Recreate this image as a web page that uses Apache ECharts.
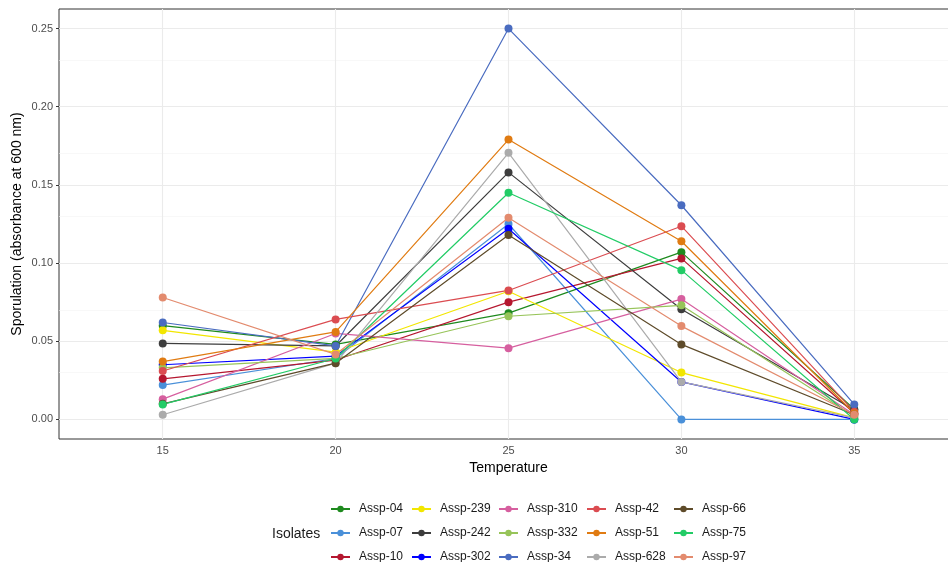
<!DOCTYPE html>
<html>
<head>
<meta charset="utf-8">
<script src="https://cdn.jsdelivr.net/npm/echarts@6/dist/echarts.min.js"></script>
<style>html,body{margin:0;padding:0;background:#fff}#c{width:948px;height:562px}</style>
</head>
<body>
<div id="c"></div>
<script>
const temps = [15, 20, 25, 30, 35];
const yTicks = [0, 0.05, 0.10, 0.15, 0.20, 0.25];
const yMinor = [0.025, 0.075, 0.125, 0.175, 0.225];
const isolates = ['Assp-04','Assp-07','Assp-10','Assp-239','Assp-242','Assp-302','Assp-310','Assp-332','Assp-34','Assp-42','Assp-51','Assp-628','Assp-66','Assp-75','Assp-97'];
const assp04  = [0.060, 0.048, 0.068, 0.107, 0.0065];
const assp07  = [0.022, 0.039, 0.125, 0.000, 0.000];
const assp10  = [0.026, 0.038, 0.075, 0.103, 0.004];
const assp239 = [0.057, 0.043, 0.082, 0.030, 0.001];
const assp242 = [0.0486, 0.047, 0.158, 0.0705, 0.006];
const assp302 = [0.035, 0.0405, 0.122, 0.024, 0.000];
const assp310 = [0.013, 0.055, 0.0456, 0.077, 0.003];
const assp332 = [0.033, 0.039, 0.066, 0.073, 0.002];
const assp34  = [0.062, 0.047, 0.250, 0.137, 0.0096];
const assp42  = [0.031, 0.064, 0.0825, 0.1236, 0.005];
const assp51  = [0.037, 0.056, 0.179, 0.114, 0.004];
const assp628 = [0.003, 0.036, 0.1705, 0.024, 0.001];
const assp66  = [0.010, 0.036, 0.118, 0.048, 0.003];
const assp75  = [0.0096, 0.039, 0.145, 0.0955, 0.000];
const assp97  = [0.078, 0.0416, 0.129, 0.0597, 0.003];
const values = [assp04, assp07, assp10, assp239, assp242, assp302, assp310, assp332, assp34, assp42, assp51, assp628, assp66, assp75, assp97];
const colors = ['#1e8a1e','#4a90d9','#b5172f','#f2e600','#3d3d3d','#0000ff','#d65f9f','#97c459','#4a6cc0','#db4c51','#e07b12','#ababab','#5e4b2a','#22cc66','#e38b6e'];
const legendCols = [
  ['Assp-04','Assp-07','Assp-10'],
  ['Assp-239','Assp-242','Assp-302'],
  ['Assp-310','Assp-332','Assp-34'],
  ['Assp-42','Assp-51','Assp-628'],
  ['Assp-66','Assp-75','Assp-97']
];
const legendLeft = [325, 406, 493, 581, 668];

const FONT = 'Liberation Sans, Arial, sans-serif';

const series = isolates.map((name, i) => ({
  name: name,
  type: 'line',
  data: temps.map((t, j) => [t, values[i][j]]),
  symbol: 'circle',
  symbolSize: 8,
  color: colors[i],
  lineStyle: { width: 1.2, color: colors[i] },
  itemStyle: { color: colors[i], borderWidth: 0 },
  z: 10,
  animation: false
}));

series.unshift({
  name: 'grid',
  type: 'line',
  data: [],
  silent: true,
  z: 1,
  animation: false,
  markLine: {
    silent: true,
    z: 1,
    symbol: ['none', 'none'],
    label: { show: false },
    animation: false,
    data: [
      ...yMinor.map(v => ({ yAxis: v, lineStyle: { color: '#f4f4f4', width: 0.6, type: 'solid' } })),
      ...yTicks.map(v => ({ yAxis: v, lineStyle: { color: '#ebebeb', width: 1.1, type: 'solid' } })),
      ...temps.map(v => ({ xAxis: v, lineStyle: { color: '#ebebeb', width: 1.1, type: 'solid' } }))
    ]
  }
});

const legends = legendCols.map((col, k) => ({
  orient: 'vertical',
  left: legendLeft[k],
  top: 498,
  height: 100,
  data: col,
  itemWidth: 19,
  itemHeight: 8,
  itemGap: 12,
  selectedMode: false,
  textStyle: { fontFamily: FONT, fontSize: 12, color: '#1a1a1a', padding: [0, 0, 0, 4] }
}));

const chart = echarts.init(document.getElementById('c'), null, { renderer: 'canvas' });
chart.setOption({
  backgroundColor: '#ffffff',
  animation: false,
  title: {
    text: 'Isolates',
    left: 267,
    top: 522,
    textStyle: { fontFamily: FONT, fontSize: 14, fontWeight: 'normal', color: '#1a1a1a' }
  },
  legend: legends,
  grid: {
    left: 59, top: 9, right: -10, bottom: 123,
    outerBoundsMode: 'none',
    containLabel: false,
    show: true, borderColor: '#333333', borderWidth: 1, backgroundColor: 'transparent'
  },
  xAxis: {
    type: 'value',
    min: 12, max: 38,
    name: 'Temperature',
    nameLocation: 'middle',
    nameGap: 22,
    nameTextStyle: { fontFamily: FONT, fontSize: 14, color: '#000' },
    axisLine: { show: false },
    axisTick: { show: true, length: 3, customValues: temps, lineStyle: { color: '#333' } },
    axisLabel: { customValues: temps, fontFamily: FONT, fontSize: 11, color: '#4d4d4d', margin: 6 },
    splitLine: { show: false }
  },
  yAxis: {
    type: 'value',
    min: -0.0125, max: 0.2625,
    name: 'Sporulation (absorbance at 600 nm)',
    nameLocation: 'middle',
    nameGap: 35,
    nameMoveOverlap: false,
    nameTextStyle: { fontFamily: FONT, fontSize: 14, color: '#000' },
    axisLine: { show: false },
    axisTick: { show: true, length: 3, customValues: yTicks, lineStyle: { color: '#333' } },
    axisLabel: { customValues: yTicks, fontFamily: FONT, fontSize: 11, color: '#4d4d4d', margin: 6,
      formatter: v => v.toFixed(2) },
    splitLine: { show: false }
  },
  series: series
});
</script>
</body>
</html>
